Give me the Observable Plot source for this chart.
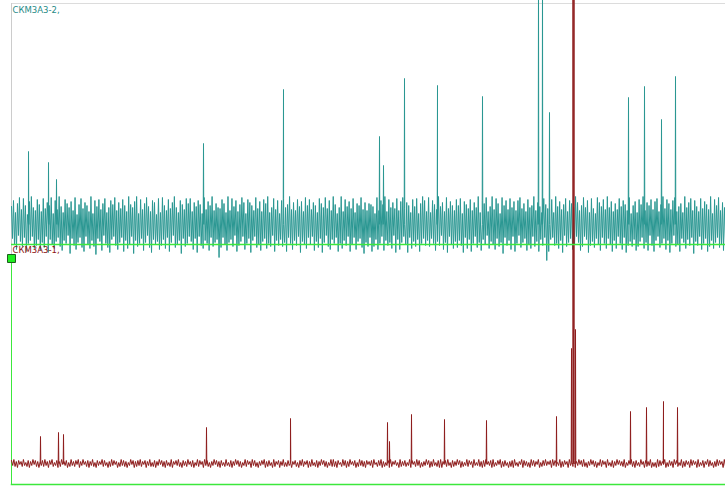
<!DOCTYPE html>
<html>
<head>
<meta charset="utf-8">
<script src="https://cdn.jsdelivr.net/npm/d3@7"></script>
<script src="https://cdn.jsdelivr.net/npm/@observablehq/plot@0.6"></script>
<style>
  html, body { margin: 0; padding: 0; background: #fff; }
  svg { display: block; }
</style>
</head>
<body>
<div id="chart"></div>
<script>
// Channel names (top, bottom)
const channels = ["СКМ3А3-2,", "СКМ3А3-1,"];
// Channel baselines in amplitude units
const channelBaselines = [260, 21];
// Boundary between channels
const channelBoundary = [240];
// Cursor marker value
const cursorValue = [226];

// Top channel noise (relative to baseline)
const topNoise = [
  18,-14,24,-20,12,-25,21,-11,27,-17,15,-22,26,-13,19,-27,10,-19,23,-16,28,-12,17,-24,14,-21,25,-15,20,-26,
  13,-18,26,-23,16,-12,22,-28,19,-15,27,-20,11,-24,24,-17,15,-13,28,-22,18,-26,12,-16,25,-19,21,-11,17,-29,
  23,-14,14,-21,27,-25,10,-18,20,-13,26,-23,16,-27,22,-12,19,-20,13,-24,28,-16,11,-22,24,-30,18,-14,25,-17,
  15,-26,21,-11,26,-19,12,-23,17,-28,24,-15,20,-12,27,-21,14,-25,22,-18,16,-13,25,-27,19,-16,13,-24,28,-20,
  20,-12,17,-29,23,-16,28,-22,11,-19,25,-14,15,-26,21,-18,27,-11,18,-23,13,-28,24,-15,22,-20,10,-17,26,-25,
  12,-21,27,-15,19,-24,14,-13,25,-27,16,-18,22,-11,28,-23,17,-20,12,-16,24,-29,20,-14,15,-22,26,-19,21,-12,
  26,-17,13,-25,22,-14,18,-28,24,-12,20,-21,11,-24,27,-16,15,-19,23,-26,19,-13,28,-22,14,-18,21,-15,17,-33,
  16,-23,25,-13,21,-20,12,-26,28,-18,14,-15,26,-22,18,-11,24,-27,13,-21,20,-17,27,-12,22,-25,11,-19,25,-14,
  22,-28,19,-16,14,-12,27,-23,16,-20,23,-26,13,-17,25,-14,21,-24,28,-19,12,-22,17,-11,26,-27,15,-16,24,-21,
  11,-15,24,-22,26,-18,17,-27,20,-13,28,-19,15,-25,22,-16,14,-21,25,-12,18,-28,23,-17,13,-20,27,-24,19,-13,
  25,-20,15,-12,22,-26,19,-17,12,-23,26,-14,21,-28,17,-18,27,-11,16,-22,24,-25,14,-15,28,-19,20,-13,11,-27,
  17,-19,28,-24,13,-16,25,-21,18,-12,23,-27,16,-20,26,-13,12,-25,21,-17,19,-14,27,-23,15,-29,22,-18,14,-22,
  21,-13,20,-27,18,-22,11,-15,27,-25,14,-19,24,-12,20,-26,28,-16,13,-21,25,-18,17,-24,22,-11,16,-28,26,-15,
  14,-25,23,-18,27,-12,16,-20,22,-28,19,-13,12,-24,25,-17,18,-22,26,-15,11,-27,21,-19,28,-14,24,-21,13,-16,
  27,-22,12,-14,24,-19,20,-26,15,-17,28,-21,18,-11,22,-25,13,-18,27,-28,16,-12,23,-20,19,-24,14,-17,25,-23,
  19,-16,26,-21,11,-28,23,-13,20,-24,16,-15,25,-27,14,-19,22,-12,17,-23,28,-18,12,-26,24,-15,21,-20,27,-11,
  13,-24,18,-17,28,-20,15,-25,26,-14,21,-22,11,-18,27,-29,19,-13,24,-21,15,-16,26,-25,17,-12,23,-27,14,-19,
  24,-11,27,-23,16,-18,21,-14,13,-26,25,-20,17,-24,19,-12,28,-22,14,-17,22,-27,18,-15,12,-21,26,-13,20,-36,
  16,-27,22,-15,25,-13,12,-21,28,-19,18,-24,23,-16,15,-28,20,-11,26,-22,13,-18,24,-14,21,-25,17,-20,28,-12,
  22,-18,14,-26,19,-22,27,-12,17,-15,24,-28,12,-21,26,-17,16,-23,11,-14,27,-20,22,-26,18,-13,25,-19,15,-24,
  28,-14,17,-20,23,-27,13,-16,21,-24,15,-12,26,-19,18,-25,24,-13,20,-28,14,-21,27,-17,11,-22,19,-15,23,-26,
  12,-22,25,-17,20,-13,28,-24,14,-18,22,-26,19,-11,25,-21,15,-27,23,-16,26,-12,13,-23,20,-19,28,-14,16,-25,
  25,-16,21,-28,15,-19,24,-11,27,-22,13,-20,18,-27,21,-14,12,-18,28,-24,17,-15,22,-21,26,-13,14,-29,24,-17,
  18,-21,13,-12,26,-25,16,-19,23,-14,20,-27,15,-22,28,-16,11,-24,25,-18,19,-13,27,-23,14,-20,22,-26,17,-15
];
// Top channel spikes: [position, height]
const topSpikes = [
  [28,73],[48,62],[56,45],[203,81],[283,135],[379,88],[383,59],[404,146],[437,139],[482,128],
  [538,245],[542,245],[549,112],[628,127],[644,138],[661,105],[675,148]
];

// Bottom channel noise (relative to baseline)
const bottomNoise = [
  3,-2,4,-3,2,-4,3,-1,2,-3,4,-2,1,-3,3,-4,2,-2,4,-1,3,-3,2,-4,1,-2,3,-3,4,-2,
  2,-4,3,-1,4,-3,1,-2,3,-4,2,-3,4,-1,2,-2,3,-4,1,-3,4,-2,2,-3,3,-1,4,-4,2,-2,
  4,-1,2,-3,3,-4,2,-2,4,-3,1,-4,3,-2,2,-1,4,-3,3,-2,1,-4,2,-3,4,-2,3,-1,2,-4,
  1,-3,4,-2,3,-3,2,-4,1,-2,4,-1,3,-4,2,-3,3,-2,4,-3,2,-1,3,-4,2,-2,4,-3,1,-3,
  3,-4,2,-2,4,-1,3,-3,2,-4,3,-2,1,-3,4,-4,2,-1,3,-2,4,-3,1,-4,3,-2,2,-3,4,-1,
  2,-3,3,-4,1,-2,4,-3,3,-1,2,-4,4,-2,3,-3,1,-4,2,-2,4,-1,3,-3,2,-4,3,-2,1,-3,
  4,-2,1,-3,3,-4,2,-2,4,-1,3,-3,2,-4,1,-2,4,-3,3,-1,2,-4,4,-2,3,-3,1,-4,2,-2,
  3,-1,4,-4,2,-3,3,-2,1,-4,4,-3,2,-1,3,-4,2,-2,4,-3,1,-3,3,-2,4,-4,2,-1,3,-3,
  1,-4,3,-2,4,-3,2,-1,3,-4,2,-3,4,-2,1,-3,3,-4,2,-2,4,-1,3,-3,2,-4,1,-2,4,-3,
  4,-3,2,-4,3,-1,1,-3,4,-2,3,-4,2,-3,4,-1,2,-2,3,-4,1,-3,4,-2,3,-3,2,-4,3,-1,
  2,-2,3,-4,4,-1,1,-3,3,-2,4,-4,2,-3,1,-2,3,-4,4,-3,2,-1,3,-2,1,-4,4,-3,2,-2,
  3,-3,1,-2,4,-4,3,-1,2,-3,4,-2,3,-4,1,-3,2,-2,4,-1,3,-4,2,-3,4,-2,1,-3,3,-4,
  4,-4,2,-1,3,-3,4,-2,1,-4,3,-3,2,-2,4,-1,3,-4,2,-3,1,-2,4,-3,3,-1,2,-4,4,-2,
  1,-2,4,-3,2,-4,3,-3,4,-1,2,-2,3,-4,4,-3,1,-2,3,-1,4,-4,2,-3,3,-2,1,-4,2,-3,
  3,-4,4,-2,1,-3,2,-1,4,-4,3,-2,2,-3,1,-4,4,-2,3,-3,2,-1,4,-4,1,-3,3,-2,4,-2,
  2,-1,3,-4,4,-2,3,-3,1,-2,4,-4,2,-3,3,-1,2,-4,4,-2,1,-3,3,-4,2,-2,4,-1,3,-3,
  4,-3,1,-4,2,-2,4,-1,3,-3,2,-4,1,-2,4,-3,3,-1,2,-4,4,-2,1,-3,3,-4,2,-2,4,-1,
  3,-2,2,-3,4,-4,1,-2,3,-1,4,-3,2,-4,3,-2,1,-3,4,-1,2,-4,3,-3,2,-2,4,-4,1,-3,
  1,-4,4,-3,3,-2,2,-1,4,-4,1,-3,3,-2,2,-4,4,-1,3,-3,1,-2,4,-4,2,-3,3,-1,2,-4,
  4,-2,3,-1,2,-4,4,-3,1,-2,3,-4,2,-1,4,-3,3,-2,1,-4,2,-3,4,-2,3,-1,2,-4,4,-3
];
// Bottom channel spikes: [position, height]
const bottomSpikes = [
  [40,27],[58,31],[63,29],[206,36],[290,45],[387,41],[389,22],[411,49],[444,44],[486,43],
  [556,47],[571,115],[572.5,500],[573.5,500],[575,134],[630,52],[646,56],[663,62],[677,56]
];

const xStart = 11, xEnd = 725;

function buildTrace(noise, spikes, base) {
  const n = noise.length;
  const pts = noise.map((v, i) => ({x: xStart + i * (xEnd - xStart) / (n - 1), y: base + v}));
  for (const [sx, h] of spikes) {
    pts.push({x: sx - 0.3, y: base}, {x: sx, y: base + h}, {x: sx + 0.3, y: base});
  }
  pts.sort((a, b) => a.x - b.x);
  return pts;
}

const topTrace = buildTrace(topNoise, topSpikes, channelBaselines[0]);
const bottomTrace = buildTrace(bottomNoise, bottomSpikes, channelBaselines[1]);

const green = "#3ce83c";

const chart = Plot.plot({
  width: 725,
  height: 488,
  marginLeft: 11,
  marginTop: 3,
  marginBottom: 4,
  marginRight: 0,
  x: {domain: [xStart, xEnd], axis: null},
  y: {domain: [0, 481], axis: null},
  style: {background: "#fff"},
  marks: [
    Plot.frame({anchor: "top", stroke: "#dcdcdc"}),
    Plot.ruleX([xStart], {y1: 481, y2: cursorValue[0], stroke: "#cccccc"}),
    Plot.ruleX([xStart], {y1: cursorValue[0], y2: 0, stroke: green}),
    Plot.lineY(topTrace, {x: "x", y: "y", stroke: "#2a9792", strokeWidth: 1, curve: "linear"}),
    Plot.lineY(bottomTrace, {x: "x", y: "y", stroke: "#8e1d1d", strokeWidth: 1, curve: "linear"}),
    Plot.ruleY(channelBoundary, {stroke: green, strokeWidth: 1.5}),
    Plot.frame({anchor: "bottom", stroke: green, strokeWidth: 1.5}),
    Plot.text([channels[0]], {frameAnchor: "top-left", dx: 1, dy: 7, lineAnchor: "middle", textAnchor: "start",
      fill: "#1f8a86", fontSize: 8.5, fontFamily: "DejaVu Sans"}),
    Plot.text([channels[1]], {x: xStart, y: channelBoundary[0], dx: 1, dy: 6, lineAnchor: "middle", textAnchor: "start",
      fill: "#8b0f0f", fontSize: 8.5, fontFamily: "DejaVu Sans"}),
    Plot.dot(cursorValue, {x: xStart, y: d => d, symbol: "square", r: 4.5, fill: "#22ee22", stroke: "#1d5e1d", strokeWidth: 1})
  ]
});

document.getElementById("chart").append(chart);
</script>
</body>
</html>
